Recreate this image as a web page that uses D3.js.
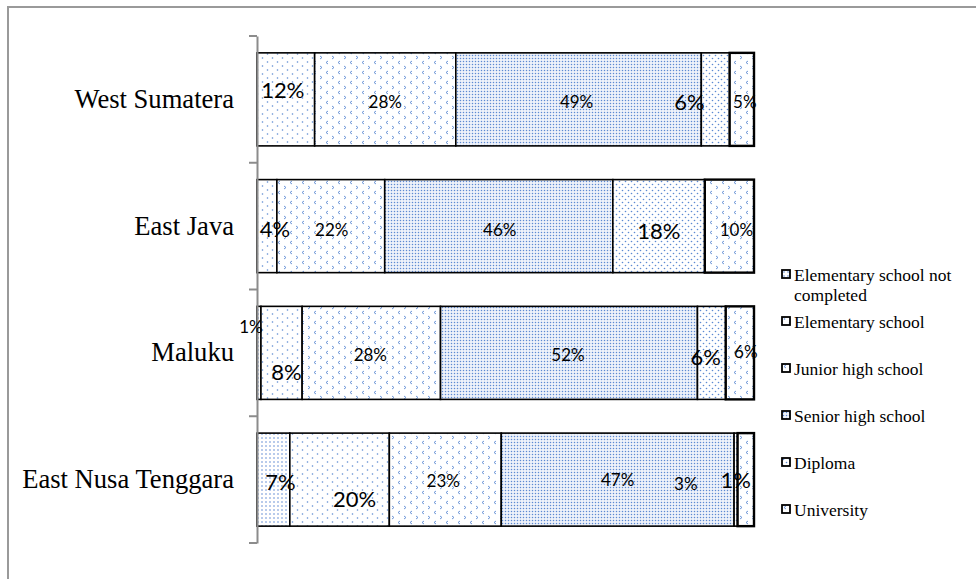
<!DOCTYPE html>
<html>
<head>
<meta charset="utf-8">
<script src="https://cdn.jsdelivr.net/npm/d3@7"></script>
<style>
  body { margin: 0; background: #fff; }
</style>
</head>
<body>
<svg id="chart" width="976" height="579"></svg>
<script>
const regions = ['West Sumatera', 'East Java', 'Maluku', 'East Nusa Tenggara'];
const levels = ['Elementary school not completed', 'Elementary school', 'Junior high school',
                'Senior high school', 'Diploma', 'University'];

// shares (%)
const elemNotCompleted = [0, 0, 0.8, 6.6];
const elementary = [11.6, 4.0, 8.3, 20.0];
const juniorHigh = [28.4, 21.7, 27.9, 22.5];
const seniorHigh = [49.4, 45.9, 51.8, 46.8];
const diploma = [5.7, 18.5, 5.7, 0.7];
const university = [4.9, 9.9, 5.7, 3.3];

// data labels, as printed on the chart
const lblElemNotCompleted = ['', '', '1%', '7%'];
const lblElementary = ['12%', '4%', '8%', '20%'];
const lblJuniorHigh = ['28%', '22%', '28%', '23%'];
const lblSeniorHigh = ['49%', '46%', '52%', '47%'];
const lblDiploma = ['6%', '18%', '6%', '3%'];
const lblUniversity = ['5%', '10%', '6%', '1%'];

const seriesValues = [elemNotCompleted, elementary, juniorHigh, seniorHigh, diploma, university];
const seriesLabels = [lblElemNotCompleted, lblElementary, lblJuniorHigh, lblSeniorHigh, lblDiploma, lblUniversity];

// label nudges [dx, dy, big?] - the labels were moved by hand in the original
const lblPlace = [
  [null, null, [-8, -26, 0], [7, 2, 1]],
  [[-3, -10, 1], [8, 2, 1], [5, 19, 1], [15, 19, 1]],
  [[0, 2, 0], [1, 3, 0], [-1, 2, 0], [-2, 1, 0]],
  [[-2, 2, 0], [1, 3, 0], [-1, 2, 0], [0, 0, 0]],
  [[-26, 2, 1], [0, 4, 1], [-6, 4, 1], [-50, 4, 0]],
  [[3, 2, 0], [7, 3, 0], [6, -1, 0], [-10, 0, 1]]
];

const patternIds = ['pMedGrid', 'pSparse', 'pChevron', 'pFine', 'pDiag', 'pChevron'];
const blue = '#5d8ad2';
const serif = '"Liberation Serif", "Times New Roman", serif';

const svg = d3.select('#chart');
const defs = svg.append('defs');

function pattern(id, w, h) {
  return defs.append('pattern').attr('id', id)
    .attr('patternUnits', 'userSpaceOnUse').attr('width', w).attr('height', h);
}
function dots(p, pts, r) {
  pts.forEach(([cx, cy]) => p.append('circle').attr('cx', cx).attr('cy', cy).attr('r', r).attr('fill', blue));
}

let p = pattern('pMedGrid', 4, 4);
p.append('rect').attr('width', 4).attr('height', 4).attr('fill', '#fff');
dots(p, [[2, 2]], 0.8);

p = pattern('pSparse', 10, 8);
p.append('rect').attr('width', 10).attr('height', 8).attr('fill', '#fff');
dots(p, [[2.5, 2], [7.5, 6]], 0.8);

p = pattern('pChevron', 12, 10);
p.append('rect').attr('width', 12).attr('height', 10).attr('fill', '#fff');
p.append('path').attr('d', 'M4,1 L2,2.5 L4,4 M8,6 L10,7.5 L8,9')
  .attr('fill', 'none').attr('stroke', blue).attr('stroke-width', 0.9);

p = pattern('pFine', 3, 3);
p.append('rect').attr('width', 3).attr('height', 3).attr('fill', '#eef2fa');
dots(p, [[1.5, 1.5]], 0.75);

p = pattern('pDiag', 6, 6);
p.append('rect').attr('width', 6).attr('height', 6).attr('fill', '#fff');
dots(p, [[1.5, 1.5], [4.5, 4.5]], 0.8);

// outer frame (cut off at right and bottom in the original)
svg.append('rect').attr('x', 8).attr('y', 7).attr('width', 1000).attr('height', 620)
  .attr('fill', 'none').attr('stroke', '#9a9a9a').attr('stroke-width', 2);

const x = d3.scaleLinear().domain([0, 1]).range([257, 754]);
const y = d3.scaleBand().domain(regions).range([36, 543]).paddingInner(0.266).paddingOuter(0.133);

const table = regions.map((r, i) => {
  const row = {region: r};
  levels.forEach((k, j) => row[k] = seriesValues[j][i]);
  return row;
});
const stacked = d3.stack().keys(levels).offset(d3.stackOffsetExpand)(table);

const layers = svg.append('g').selectAll('g')
  .data(stacked).enter().append('g')
  .attr('fill', (d, i) => 'url(#' + patternIds[i] + ')');

layers.selectAll('rect')
  .data(d => d.map(s => ({s, key: d.key, idx: d.index})))
  .enter().append('rect')
  .attr('x', d => x(d.s[0]))
  .attr('y', d => y(d.s.data.region))
  .attr('width', d => x(d.s[1]) - x(d.s[0]))
  .attr('height', y.bandwidth())
  .attr('stroke', '#000')
  .attr('stroke-width', d => d.idx === 5 ? 2.4 : 1.6)
  .filter(d => d.s[1] - d.s[0] === 0).remove();

// axis: line with ticks between the categories
const yAxis = svg.append('g').attr('transform', 'translate(257,0)')
  .call(d3.axisLeft(y).tickSize(0).tickPadding(23));
yAxis.select('.domain').attr('stroke', '#8c8c8c').attr('stroke-width', 2);
yAxis.selectAll('.tick text')
  .style('font-family', serif)
  .style('font-size', '26.6px').attr('fill', '#000');

const bounds = regions.map(r => y(r) - y.step() * y.paddingInner() / 2).concat([543]);
svg.append('g').selectAll('line').data(bounds).enter().append('line')
  .attr('x1', 249).attr('x2', 257)
  .attr('y1', d => d).attr('y2', d => d)
  .attr('stroke', '#8c8c8c').attr('stroke-width', 2);

// data labels
const labelG = svg.append('g').style('font-family', 'Lato, "Open Sans", sans-serif').attr('fill', '#000');
stacked.forEach((layer, j) => {
  layer.forEach((s, i) => {
    const txt = seriesLabels[j][i];
    const pl = lblPlace[j][i];
    if (!txt || !pl) return;
    labelG.append('text')
      .attr('x', (x(s[0]) + x(s[1])) / 2 + pl[0])
      .attr('y', y(regions[i]) + y.bandwidth() / 2 + pl[1])
      .attr('text-anchor', 'middle')
      .attr('dominant-baseline', 'central')
      .style('font-size', (pl[2] ? 22 : 17) + 'px')
      .text(txt);
  });
});

// legend
const legend = svg.append('g').attr('transform', 'translate(782,270)');
const items = legend.selectAll('g').data(levels).enter().append('g')
  .attr('transform', (d, i) => 'translate(0,' + i * 47 + ')');
items.append('rect').attr('width', 8).attr('height', 8)
  .attr('fill', (d, i) => 'url(#' + patternIds[i] + ')')
  .attr('stroke', '#000').attr('stroke-width', 1.8);
items.append('text')
  .attr('x', 12).attr('y', 11)
  .style('font-family', serif)
  .style('font-size', '17.5px').attr('fill', '#000')
  .each(function(d) {
    const t = d3.select(this);
    const words = d.split(' ');
    let line = [];
    let tspan = t.append('tspan').attr('x', 12);
    words.forEach(w => {
      line.push(w);
      tspan.text(line.join(' '));
      if (tspan.node().getComputedTextLength() > 170 && line.length > 1) {
        line.pop();
        tspan.text(line.join(' '));
        line = [w];
        tspan = t.append('tspan').attr('x', 12).attr('dy', 19.5).text(w);
      }
    });
  });
</script>
</body>
</html>
